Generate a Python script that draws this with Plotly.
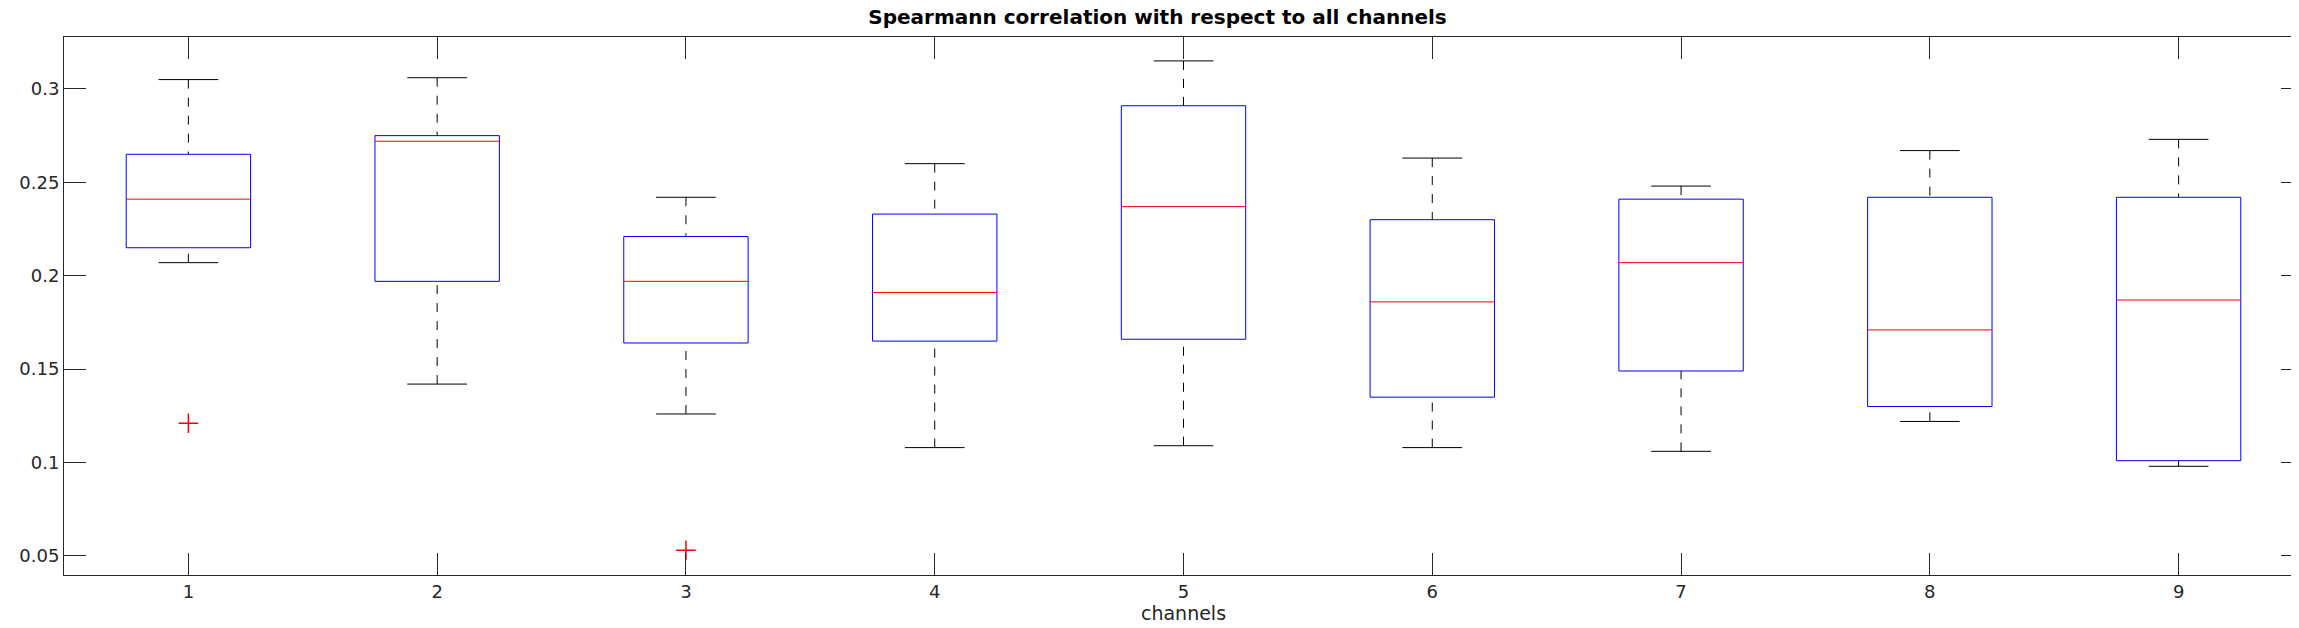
import plotly.graph_objects as go

channels = [1, 2, 3, 4, 5, 6, 7, 8, 9]
upper_whisker = [0.305, 0.306, 0.242, 0.260, 0.315, 0.263, 0.248, 0.267, 0.273]
q3 = [0.265, 0.275, 0.221, 0.233, 0.291, 0.230, 0.241, 0.242, 0.242]
median = [0.241, 0.272, 0.197, 0.191, 0.237, 0.186, 0.207, 0.171, 0.187]
q1 = [0.215, 0.197, 0.164, 0.165, 0.166, 0.135, 0.149, 0.130, 0.101]
lower_whisker = [0.207, 0.142, 0.126, 0.108, 0.109, 0.108, 0.106, 0.122, 0.098]
outlier_x = [1, 3]
outlier_y = [0.121, 0.053]

HW = 0.25   # box half width
CW = 0.12   # cap half width

def segs(xs0, xs1, ys0, ys1):
    x, y = [], []
    for a, b, c, d in zip(xs0, xs1, ys0, ys1):
        x += [a, b, None]
        y += [c, d, None]
    return x, y

fig = go.Figure()

# whiskers (dashed)
wx, wy = segs(channels + channels, channels + channels,
              upper_whisker + lower_whisker, q3 + q1)
fig.add_trace(go.Scatter(x=wx, y=wy, mode="lines",
                         line=dict(color="black", width=1, dash="dash")))
# caps
cx, cy = segs([c - CW for c in channels] * 2, [c + CW for c in channels] * 2,
              upper_whisker + lower_whisker, upper_whisker + lower_whisker)
fig.add_trace(go.Scatter(x=cx, y=cy, mode="lines", line=dict(color="black", width=1)))

# boxes
bx, by = [], []
for c, lo, hi in zip(channels, q1, q3):
    bx += [c - HW, c + HW, c + HW, c - HW, c - HW, None]
    by += [lo, lo, hi, hi, lo, None]
fig.add_trace(go.Scatter(x=bx, y=by, mode="lines", line=dict(color="blue", width=1)))

# medians
mx, my = segs([c - HW for c in channels], [c + HW for c in channels], median, median)
fig.add_trace(go.Scatter(x=mx, y=my, mode="lines", line=dict(color="red", width=1)))

# outliers
fig.add_trace(go.Scatter(x=outlier_x, y=outlier_y, mode="markers",
                         marker=dict(symbol="cross-thin", size=14,
                                     line=dict(color="red", width=1.5))))

axis_common = dict(showgrid=False, zeroline=False, showline=True, linecolor="#262626",
                   linewidth=1, mirror="allticks", ticks="inside", tickcolor="#262626",
                   ticklen=22,
                   tickfont=dict(family="DejaVu Sans", size=18, color="#262626"))
fig.update_xaxes(range=[0.5, 9.5], tickvals=channels,
                 title=dict(text="channels", font=dict(family="DejaVu Sans", size=19,
                                                        color="#262626"), standoff=4),
                 **axis_common)
fig.update_yaxes(range=[0.0398, 0.3278], tickvals=[0.05, 0.1, 0.15, 0.2, 0.25, 0.3],
                 ticktext=["0.05", "0.1", "0.15", "0.2", "0.25", "0.3"],
                 **axis_common)
fig.update_layout(
    width=2299, height=628, showlegend=False,
    plot_bgcolor="white", paper_bgcolor="white",
    margin=dict(l=56, r=4, t=29, b=61),
    title=dict(text="<b>Spearmann correlation with respect to all channels</b>",
               x=0.5, xanchor="center", y=0.997, yanchor="top",
               font=dict(family="DejaVu Sans", size=20, color="black")),
)
fig.write_html("out.html")
